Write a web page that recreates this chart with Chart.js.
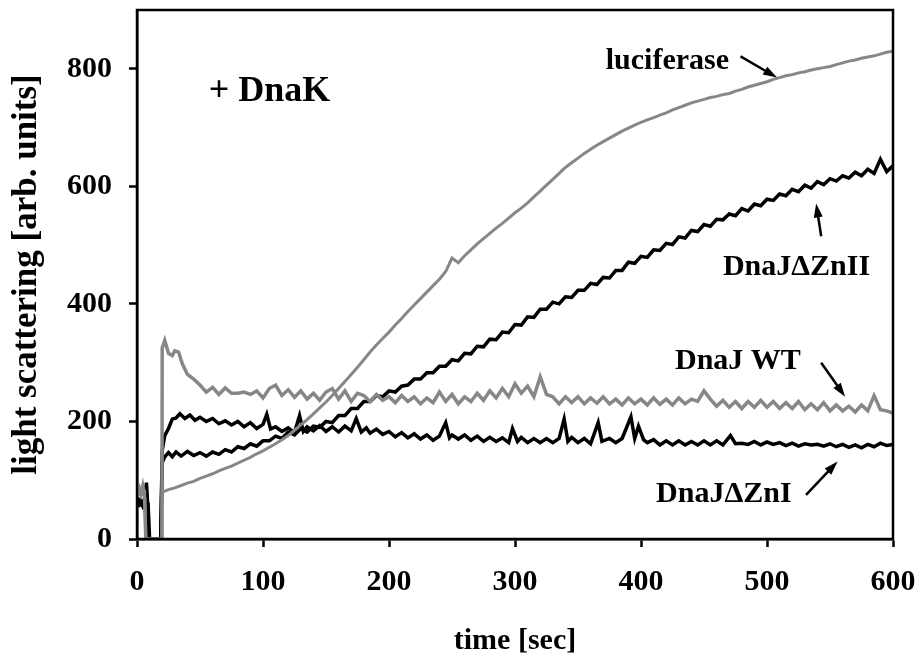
<!DOCTYPE html>
<html>
<head>
<meta charset="utf-8">
<script src="https://cdn.jsdelivr.net/npm/chart.js@4.4.1/dist/chart.umd.min.js"></script>
<style>
  html, body { margin: 0; padding: 0; background: #fff; }
  #wrap { width: 918px; height: 659px; }
</style>
</head>
<body>
<div id="wrap"><canvas id="chart"></canvas></div>
<script>
// light scattering of luciferase with DnaK + DnaJ variants

const lucT = [0, 1.5, 3, 4.5, 6, 7, 19.8,
  20, 25, 30, 35, 40, 45, 50, 55, 60, 65, 70, 75, 80, 85, 90, 95, 100, 105, 110, 115, 120, 125, 130, 135, 140, 145,
  150, 155, 160, 165, 170, 175, 180, 185, 190, 195, 200, 205, 210, 215, 220, 225, 230, 235, 240, 245, 250, 255,
  260, 265, 270, 275, 280, 285, 290, 295, 300, 305, 310, 315, 320, 325, 330, 335, 340, 345, 350, 355, 360, 365,
  370, 375, 380, 385, 390, 395, 400, 405, 410, 415, 420, 425, 430, 435, 440, 445, 450, 455, 460, 465, 470, 475,
  480, 485, 490, 495, 500, 505, 510, 515, 520, 525, 530, 535, 540, 545, 550, 555, 560, 565, 570, 575, 580, 585,
  590, 595, 600];
const lucV = [86, 90, 80, 88, 82, 0, 0,
  80, 84, 87, 91, 95, 98, 103, 107, 111, 116, 120, 124, 129, 134, 139, 145, 150, 156, 162, 169, 176, 185, 194, 203, 213, 223,
  233, 244, 256, 268, 280, 292, 305, 318, 330, 341, 352, 364, 375, 387, 398, 409, 420, 431, 442, 455, 478, 470,
  482, 492, 502, 511, 520, 529, 537, 546, 555, 563, 572, 582, 592, 602, 612, 622, 632, 640, 648, 656, 663, 670,
  676, 682, 688, 694, 699, 704, 709, 713, 717, 721, 725, 730, 734, 738, 742, 745, 748, 751, 753, 756, 758, 762,
  765, 769, 772, 775, 778, 782, 785, 788, 790, 793, 795, 798, 800, 802, 804, 807, 810, 813, 815, 818, 820, 822,
  825, 828, 830];

const wtT = [0, 1.5, 3, 4.5, 6, 7, 19.8,
  20, 22, 25, 28, 30, 33, 36, 40, 45, 50, 55, 60, 65, 70, 75, 80, 85, 90, 95, 100, 105, 110, 115, 120, 125, 130,
  135, 140, 145, 150, 155, 160, 165, 170, 175, 180, 185, 190, 195, 200, 205, 210, 215, 220, 225, 230, 235, 240,
  245, 250, 255, 260, 265, 270, 275, 280, 285, 290, 295, 300, 305, 310, 315, 320, 325, 330, 335, 340, 345, 350,
  355, 360, 365, 370, 375, 380, 385, 390, 395, 400, 405, 410, 415, 420, 425, 430, 435, 440, 445, 450, 455, 460,
  465, 470, 475, 480, 485, 490, 495, 500, 505, 510, 515, 520, 525, 530, 535, 540, 545, 550, 555, 560, 565, 570,
  575, 580, 585, 590, 595, 600];
const wtV = [72, 84, 76, 90, 70, 0, 0,
  325, 338, 316, 312, 320, 318, 298, 280, 272, 262, 250, 258, 246, 257, 248, 248, 250, 246, 252, 240, 256, 262, 244, 254, 241, 252,
  238, 248, 236, 250, 256, 238, 252, 234, 248, 244, 234, 246, 236, 242, 232, 244, 234, 242, 230, 240, 232, 250,
  234, 246, 230, 242, 234, 248, 236, 252, 240, 256, 242, 264, 248, 260, 242, 276, 246, 242, 230, 242, 232, 242,
  230, 240, 231, 242, 230, 238, 228, 240, 230, 238, 228, 240, 229, 238, 228, 240, 230, 238, 234, 252, 238, 226,
  236, 224, 234, 222, 234, 224, 236, 224, 234, 222, 232, 222, 234, 220, 230, 220, 232, 218, 228, 218, 226, 216,
  228, 218, 244, 220, 218, 214];

const zn2T = [0, 1.5, 3, 4.5, 6, 7.5, 8.8, 10, 18.8,
  20, 22, 25, 28, 31, 35, 40, 45, 50, 55, 60, 65, 70, 75, 80, 85, 90, 95, 100, 105, 110, 115, 120, 125, 130,
  135, 140, 145, 150, 155, 160, 165, 170, 175, 180, 185, 190, 195, 200, 205, 210, 215, 220, 225, 230, 235, 240,
  245, 250, 255, 260, 265, 270, 275, 280, 285, 290, 295, 300, 305, 310, 315, 320, 325, 330, 335, 340, 345, 350,
  355, 360, 365, 370, 375, 380, 385, 390, 395, 400, 405, 410, 415, 420, 425, 430, 435, 440, 445, 450, 455, 460,
  465, 470, 475, 480, 485, 490, 495, 500, 505, 510, 515, 520, 525, 530, 535, 540, 545, 550, 555, 560, 565, 570,
  575, 580, 585, 590, 595, 600];
const zn2V = [58, 66, 60, 64, 57, 62, 60, 0, 0,
  130, 140, 147, 140, 148, 141, 149, 142, 147, 141, 148, 144, 152, 148, 157, 154, 162, 158, 167, 167, 175, 171, 182, 177, 188,
  182, 192, 190, 200, 198, 210, 210, 222, 222, 234, 234, 244, 242, 252, 250, 260, 262, 272, 272, 283, 283, 294,
  294, 305, 303, 316, 315, 328, 327, 340, 339, 352, 351, 365, 364, 378, 377, 391, 391, 403, 400, 412, 411, 423,
  423, 435, 433, 445, 444, 457, 457, 471, 469, 481, 479, 492, 491, 503, 501, 514, 512, 525, 523, 535, 532, 544,
  543, 553, 550, 562, 558, 570, 567, 578, 576, 587, 584, 595, 591, 602, 597, 608, 603, 613, 609, 618, 614, 624,
  618, 629, 622, 646, 625, 635];

const zn1T = [0, 1.5, 3, 4.5, 6, 7.5, 8.5, 9, 18.8,
  20, 22, 25, 28, 31, 34, 38, 42, 46, 50, 55, 60, 65, 70, 75, 80, 85, 90, 95, 100, 103, 106, 110, 115, 120, 125,
  129, 132, 135, 140, 145, 150, 155, 160, 165, 170, 174, 178, 182, 185, 190, 195, 200, 205, 210, 215, 220, 225,
  230, 235, 240, 245, 248, 250, 255, 260, 265, 270, 275, 280, 285, 290, 295, 298, 302, 305, 310, 315, 320, 325,
  330, 335, 339, 342, 345, 350, 355, 360, 366, 369, 375, 380, 385, 392, 395, 398, 402, 405, 410, 415, 420, 425,
  430, 435, 440, 445, 450, 455, 460, 465, 471, 475, 480, 485, 490, 495, 500, 505, 510, 515, 520, 525, 530, 535,
  540, 545, 550, 555, 560, 565, 570, 575, 580, 585, 590, 595, 600];
const zn1V = [62, 58, 64, 56, 62, 96, 58, 0, 0,
  150, 176, 188, 204, 206, 213, 205, 211, 202, 207, 200, 205, 196, 201, 194, 200, 191, 198, 188, 195, 212, 187, 191, 183, 189, 181,
  210, 183, 191, 184, 193, 183, 191, 182, 192, 184, 205, 182, 189, 180, 187, 178, 183, 174, 181, 172, 179, 170,
  177, 168, 175, 198, 172, 177, 170, 177, 168, 175, 166, 173, 166, 172, 164, 188, 166, 173, 164, 171, 164, 171,
  164, 171, 204, 166, 173, 164, 171, 162, 198, 166, 171, 164, 171, 208, 171, 192, 169, 164, 169, 160, 167, 160,
  167, 160, 166, 160, 167, 160, 167, 160, 176, 162, 163, 161, 166, 160, 165, 161, 164, 159, 163, 158, 162, 160,
  161, 158, 162, 157, 161, 156, 160, 155, 161, 157, 163, 159, 161];

// annotation texts (data coordinates: left edge, baseline)
const noteText = ["+ DnaK", "luciferase", "DnaJ\u0394ZnII", "DnaJ WT", "DnaJ\u0394ZnI"];
const noteX = [57, 372, 465, 427, 412];
const noteY = [745, 800, 450, 290, 63];
// arrows (data coordinates: tail -> head)
const arrowX1 = [479, 543, 543, 531];
const arrowY1 = [821, 515, 300, 75];
const arrowX2 = [508, 539, 562, 556];
const arrowY2 = [785, 571, 242, 132];

const toXY = (ts, vs) => ts.map((t, i) => ({ x: t, y: vs[i] }));

const FONT = "'Liberation Serif', 'Times New Roman', serif";
const GRAY = "#878787";

const notesPlugin = {
  id: "notes",
  afterDatasetsDraw(chart) {
    const { ctx, scales } = chart;
    const sx = scales.x, sy = scales.y;
    ctx.save();
    // frame on top / right
    ctx.strokeStyle = "#000";
    ctx.lineWidth = 2.5;
    const a = chart.chartArea;
    ctx.strokeRect(a.left, a.top, a.right - a.left, a.bottom - a.top);

    ctx.fillStyle = "#000";
    ctx.textBaseline = "alphabetic";
    ctx.textAlign = "left";
    noteText.forEach((t, i) => {
      ctx.font = "bold " + (i === 0 ? 36 : 30) + "px " + FONT;
      ctx.fillText(t, sx.getPixelForValue(noteX[i]), sy.getPixelForValue(noteY[i]));
    });

    arrowX1.forEach((_, i) => {
      const x1 = sx.getPixelForValue(arrowX1[i]), y1 = sy.getPixelForValue(arrowY1[i]);
      const x2 = sx.getPixelForValue(arrowX2[i]), y2 = sy.getPixelForValue(arrowY2[i]);
      const ang = Math.atan2(y2 - y1, x2 - x1);
      const hl = 14, hw = 4.5;
      ctx.lineWidth = 2.5;
      ctx.beginPath();
      ctx.moveTo(x1, y1);
      ctx.lineTo(x2 - Math.cos(ang) * hl * 0.8, y2 - Math.sin(ang) * hl * 0.8);
      ctx.stroke();
      ctx.beginPath();
      ctx.moveTo(x2, y2);
      ctx.lineTo(x2 - Math.cos(ang) * hl + Math.sin(ang) * hw, y2 - Math.sin(ang) * hl - Math.cos(ang) * hw);
      ctx.lineTo(x2 - Math.cos(ang) * hl - Math.sin(ang) * hw, y2 - Math.sin(ang) * hl + Math.cos(ang) * hw);
      ctx.closePath();
      ctx.fill();
    });
    ctx.restore();
  },
};

const lineSet = (label, data, color, w) => ({
  label,
  data,
  borderColor: color,
  borderWidth: w,
  pointRadius: 0,
  tension: 0,
  fill: false,
});

const tickFont = { family: FONT, size: 30, weight: "bold" };

new Chart(document.getElementById("chart").getContext("2d"), {
  type: "line",
  data: {
    datasets: [
      lineSet("luciferase", toXY(lucT, lucV), GRAY, 3),
      lineSet("DnaJ WT", toXY(wtT, wtV), GRAY, 3.5),
      lineSet("DnaJ\u0394ZnII", toXY(zn2T, zn2V), "#000", 3.5),
      lineSet("DnaJ\u0394ZnI", toXY(zn1T, zn1V), "#000", 3.5),
    ],
  },
  options: {
    responsive: true,
    maintainAspectRatio: false,
    animation: false,
    events: [],
    layout: { padding: { top: 10, right: 25, left: 0, bottom: 0 } },
    plugins: {
      legend: { display: false },
      tooltip: { enabled: false },
    },
    scales: {
      x: {
        type: "linear",
        min: 0,
        max: 600,
        afterFit: (s) => { s.height = 120; s.paddingLeft = 0; s.paddingRight = 0; },
        ticks: { stepSize: 100, color: "#000", font: tickFont, padding: 17, maxRotation: 0 },
        grid: { drawOnChartArea: false, drawTicks: true, tickLength: 8, tickWidth: 2.5, tickColor: "#000" },
        border: { color: "#000", width: 2.5 },
        title: { display: true, text: "time [sec]", color: "#000", font: { family: FONT, size: 30, weight: "bold" }, padding: 0 },
      },
      y: {
        min: 0,
        max: 900,
        afterFit: (s) => { s.width = 137; s.paddingTop = 0; s.paddingBottom = 0; },
        ticks: { stepSize: 200, includeBounds: false, color: "#000", font: tickFont, padding: 17 },
        grid: { drawOnChartArea: false, drawTicks: true, tickLength: 8, tickWidth: 2.5, tickColor: "#000" },
        border: { color: "#000", width: 2.5 },
        title: { display: true, text: "light scattering [arb. units]", color: "#000", font: { family: FONT, size: 35, weight: "bold" }, padding: { top: 6, bottom: 0 } },
      },
    },
  },
  plugins: [notesPlugin],
});
</script>
</body>
</html>
